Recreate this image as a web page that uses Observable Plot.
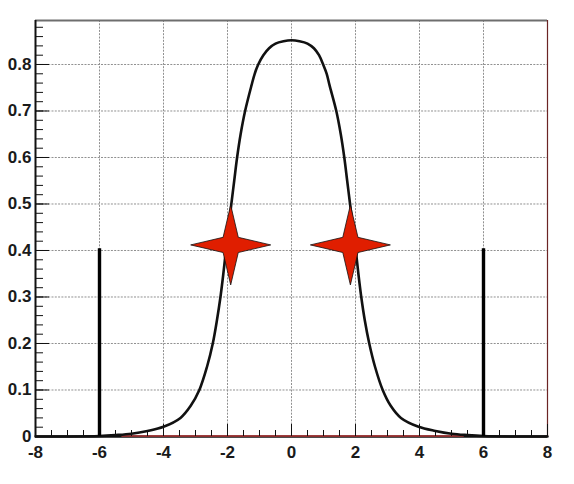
<!DOCTYPE html>
<html>
<head>
<meta charset="utf-8">
<script src="https://cdn.jsdelivr.net/npm/d3@7"></script>
<script src="https://cdn.jsdelivr.net/npm/@observablehq/plot@0.6"></script>
<style>
  html, body { margin: 0; padding: 0; background: #fff; }
  #chart { width: 574px; height: 484px; }
</style>
</head>
<body>
<div id="chart"></div>
<script>
// ---- data ----
const curveX = [-8, -7, -6, -5.5, -5, -4.5, -4, -3.47, -3.15, -2.88, -2.64, -2.46, -2.33, -2.22, -2.13, -2.05, -1.965, -1.88, -1.79, -1.70, -1.59, -1.45, -1.25, -1.15, -1.04, -0.88, -0.7, -0.5, -0.25, 0,
                0.25, 0.5, 0.7, 0.86, 0.99, 1.1, 1.19, 1.40, 1.54, 1.65, 1.74, 1.83, 1.92, 2.01, 2.09, 2.18, 2.29, 2.43, 2.61, 2.85, 3.1, 3.42, 3.97, 4.5, 5.0, 5.5, 6.0, 7, 8];
const curveY = [0, 0, 0.001, 0.003, 0.006, 0.012, 0.021, 0.040, 0.066, 0.10, 0.15, 0.20, 0.25, 0.30, 0.35, 0.40, 0.45, 0.50, 0.55, 0.60, 0.65, 0.70, 0.755, 0.78, 0.80, 0.82, 0.835, 0.845, 0.850, 0.852,
                0.850, 0.845, 0.835, 0.82, 0.80, 0.78, 0.755, 0.70, 0.65, 0.60, 0.55, 0.50, 0.45, 0.40, 0.35, 0.30, 0.25, 0.20, 0.15, 0.10, 0.066, 0.040, 0.021, 0.012, 0.006, 0.003, 0.001, 0, 0];

const starX = [-1.9, 1.84];
const starY = [0.412, 0.412];

const lineX = [-6, 6];
const lineTop = [0.404, 0.404];

const redLineFrom = -5.3;
const redLineTo = 5.4;

const xTicks = [-8, -6, -4, -2, 0, 2, 4, 6, 8];
const xTickLabels = ["-8", "-6", "-4", "-2", "0", "2", "4", "6", "8"];
const yTicks = [0, 0.1, 0.2, 0.3, 0.4, 0.5, 0.6, 0.7, 0.8];
const yTickLabels = ["0", "0.1", "0.2", "0.3", "0.4", "0.5", "0.6", "0.7", "0.8"];
const xMinor = d3.range(-8, 8.001, 0.5);
const yMinor = d3.range(0, 0.89, 0.02);

const xMax = 8, xMin = -8, yMin = 0, yMax = 0.8946;

// ---- build tables ----
const curve = curveX.map((x, i) => ({x, y: curveY[i]}));
const stars = starX.map((x, i) => ({x, y: starY[i]}));
const vlines = lineX.map((x, i) => ({x, top: lineTop[i]}));

const star4 = {
  draw(context, size) {
    const R = Math.sqrt(size / Math.PI);
    const a = R * 0.19; // inner vertex offset along diagonal
    context.moveTo(R, 0);
    context.lineTo(a, a);
    context.lineTo(0, R);
    context.lineTo(-a, a);
    context.lineTo(-R, 0);
    context.lineTo(-a, -a);
    context.lineTo(0, -R);
    context.lineTo(a, -a);
    context.closePath();
  }
};

const font = "'Liberation Sans', Arial, Helvetica, sans-serif";

const chart = Plot.plot({
  width: 574,
  height: 484,
  marginLeft: 35,
  marginRight: 27,
  marginTop: 20,
  marginBottom: 48,
  style: {fontFamily: font, fontSize: "17px", fontWeight: "bold", color: "#1a1a1a", background: "#fff"},
  x: {domain: [xMin, xMax], label: null},
  y: {domain: [yMin, yMax], label: null},
  marks: [
    Plot.gridX(xTicks.slice(1, -1), {stroke: "#909090", strokeOpacity: 1, strokeDasharray: "2,1.3", strokeWidth: 1}),
    Plot.gridY(yTicks.slice(1), {stroke: "#909090", strokeOpacity: 1, strokeDasharray: "2,1.3", strokeWidth: 1}),
    // frame
    Plot.ruleY([yMax], {stroke: "#6e6e6e", strokeWidth: 2}),
    Plot.ruleX([xMax], {stroke: "#6b2424", strokeWidth: 1.2}),
    Plot.ruleX([xMin], {stroke: "#111", strokeWidth: 2}),
    Plot.ruleY([yMin], {stroke: "#111", strokeWidth: 2.5}),
    Plot.ruleY([yMin], {x1: redLineFrom, x2: redLineTo, stroke: "#b83a3a", strokeWidth: 1.3, dy: -0.5}),
    // ticks
    Plot.axisY(yMinor, {anchor: "left", tickSize: -8, tickFormat: () => "", stroke: "#111", label: null}),
    Plot.axisY(yTicks, {anchor: "left", tickSize: -14, tickPadding: 18, tickFormat: d => yTickLabels[yTicks.indexOf(d)],
      stroke: "#111", fill: "#1a1a1a", fontSize: 17, fontWeight: "bold", label: null}),
    Plot.axisX(xMinor, {anchor: "bottom", tickSize: -6, tickFormat: () => "", stroke: "#111", label: null}),
    Plot.axisX(xTicks, {anchor: "bottom", tickSize: -12, tickPadding: 21, tickFormat: d => xTickLabels[xTicks.indexOf(d)],
      stroke: "#111", fill: "#1a1a1a", fontSize: 17, fontWeight: "bold", label: null}),
    // data
    Plot.line(curve, {x: "x", y: "y", curve: "catmull-rom", stroke: "#111", strokeWidth: 2.6}),
    Plot.ruleX(vlines, {x: "x", y1: 0, y2: "top", stroke: "#000", strokeWidth: 3.4}),
    Plot.dot(stars, {x: "x", y: "y", r: 40, symbol: star4, fill: "#e01e00", stroke: "#111", strokeWidth: 0.8})
  ]
});
document.getElementById("chart").appendChild(chart);
</script>
</body>
</html>
